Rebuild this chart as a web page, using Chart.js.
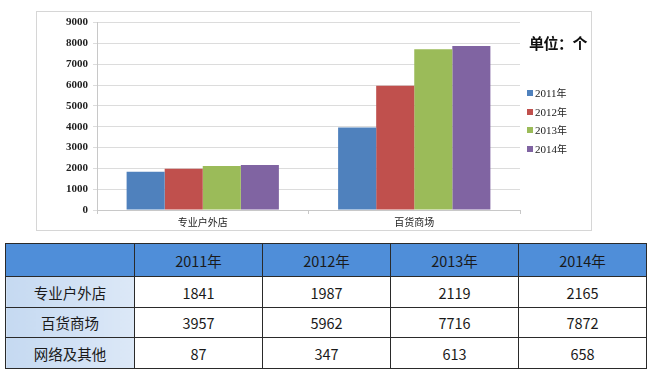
<!DOCTYPE html>
<html>
<head>
<meta charset="utf-8">
<script src="https://cdn.jsdelivr.net/npm/chart.js@4.4.0/dist/chart.umd.min.js"></script>
<style>
  html, body { margin: 0; padding: 0; background: #fff; width: 650px; height: 380px; overflow: hidden; }
  #frame { position: absolute; left: 36px; top: 11px; width: 556px; height: 220px; border: 1px solid #d6d6d6; box-sizing: border-box; }
  #wrap { position: absolute; left: 36px; top: 11px; width: 557px; height: 221px; }
  #unit { position: absolute; left: 529px; top: 32px; font-family: "Noto Sans CJK SC", sans-serif; font-weight: bold; font-size: 15px; color: #111; letter-spacing: -0.5px; }
  #legend { position: absolute; left: 527px; top: 86px; font-family: "Liberation Serif", "DejaVu Serif", serif; font-size: 11px; color: #222; }
  #legend .it { height: 18.5px; line-height: 14px; white-space: nowrap; }
  #legend .sw { display: inline-block; width: 6px; height: 6px; margin-right: 2px; vertical-align: 1px; }
  #legend .cjk { font-family: "Noto Sans CJK SC", sans-serif; font-size: 10px; }
  table { position: absolute; left: 5px; top: 243px; border-collapse: collapse; font-family: "Noto Sans CJK SC", sans-serif; font-size: 14.5px; color: #1a1a1a; }
  td { border: 1.5px solid #2a2a2a; text-align: center; padding: 0; }
  tr.h td { background: #4f8ed9; height: 32px; }
  td.first { background: linear-gradient(to right, #c5d9f1, #dce8f7); width: 128px; }
  td.v { width: 127px; background: #fff; }
</style>
</head>
<body>
<div id="frame"></div>
<div id="wrap"><canvas id="c" width="557" height="221"></canvas></div>
<div id="unit">单位：个</div>
<div id="legend"></div>
<table id="tbl"></table>
<script>
const categories = ["专业户外店", "百货商场"];
const years = ["2011年", "2012年", "2013年", "2014年"];
const colors = ["#4f81bd", "#c0504d", "#9bbb59", "#8064a2"];
const v2011 = [1841, 3957];
const v2012 = [1987, 5962];
const v2013 = [2119, 7716];
const v2014 = [2165, 7872];
const yTicks = [0, 1000, 2000, 3000, 4000, 5000, 6000, 7000, 8000, 9000];

const tableRows = ["专业户外店", "百货商场", "网络及其他"];
const tOutdoor = [1841, 1987, 2119, 2165];
const tDept = [3957, 5962, 7716, 7872];
const tOnline = [87, 347, 613, 658];

const series = [v2011, v2012, v2013, v2014];

new Chart(document.getElementById("c"), {
  type: "bar",
  data: {
    labels: categories,
    datasets: series.map((d, i) => ({
      label: years[i], data: d, backgroundColor: colors[i], borderWidth: 0,
      barPercentage: 1.0, categoryPercentage: 0.72
    }))
  },
  options: {
    responsive: false,
    animation: false,
    events: [],
    layout: { padding: { left: 0, top: 9, right: 73, bottom: 0 } },
    plugins: { legend: { display: false }, tooltip: { enabled: false } },
    scales: {
      x: {
        offset: true,
        grid: { display: true, drawOnChartArea: false, drawTicks: true, tickLength: 4, color: "#c8c8c8", offset: true },
        border: { color: "#c8c8c8" },
        ticks: { color: "#222", font: { family: "Noto Sans CJK SC", size: 10 }, padding: 2 },
        afterFit: s => { s.height = 22; }
      },
      y: {
        min: 0, max: 9000,
        afterBuildTicks: s => { s.ticks = yTicks.map(v => ({ value: v })); },
        grid: { color: "#dcdcdc", tickLength: 4, drawTicks: true },
        border: { color: "#c8c8c8" },
        ticks: { color: "#222", font: { family: "Liberation Serif", size: 11, weight: "bold" }, padding: 5,
                 callback: v => String(v) },
        afterFit: s => { s.width = 61; }
      }
    }
  }
});

const lg = document.getElementById("legend");
years.forEach((y, i) => {
  const d = document.createElement("div");
  d.className = "it";
  d.innerHTML = '<span class="sw" style="background:' + colors[i] + '"></span>' + y.replace("年", "") + '<span class="cjk">年</span>';
  lg.appendChild(d);
});

const tbl = document.getElementById("tbl");
let html = '<tr class="h"><td class="first" style="background:#4f8ed9"></td>' + years.map(y => '<td class="v" style="background:#4f8ed9">' + y + '</td>').join("") + '</tr>';
const rowsData = [tOutdoor, tDept, tOnline];
const rowH = [31, 30, 31];
tableRows.forEach((r, i) => {
  html += '<tr style="height:' + rowH[i] + 'px"><td class="first">' + r + '</td>' + rowsData[i].map(v => '<td class="v">' + v + '</td>').join("") + '</tr>';
});
tbl.innerHTML = html;
</script>
</body>
</html>
